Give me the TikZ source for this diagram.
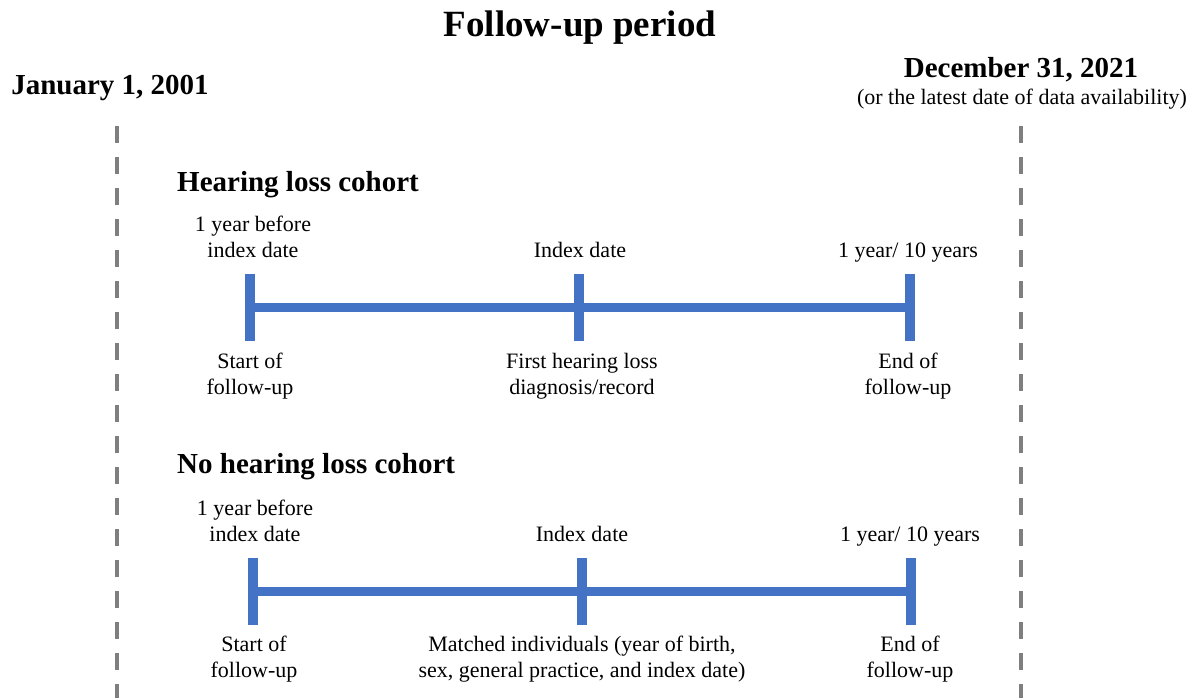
\documentclass[tikz,border=0pt]{standalone}
\usepackage{fontspec}
\setmainfont{Liberation Serif}
\definecolor{tlblue}{HTML}{4472C4}
\definecolor{dashgray}{HTML}{7F7F7F}
\tikzset{
  lbl/.style={inner sep=0pt, align=center, font=\fontsize{22}{26}\selectfont},
  head/.style={inner sep=0pt, font=\fontsize{29}{34}\selectfont\bfseries},
  tickbar/.style={fill=tlblue, inner sep=0pt, minimum width=10pt, minimum height=67pt},
  timeline/.style={draw=tlblue, line width=9pt},
  boundary/.style={draw=dashgray, line width=4pt, dash pattern=on 17pt off 14pt},
}
\begin{document}
\begin{tikzpicture}[x=1pt,y=-1pt]
\useasboundingbox (0,0) rectangle (1195,698);
% titles
\node[inner sep=0pt, font=\fontsize{37}{44}\selectfont\bfseries] (title) at (580,28) {Follow-up period};
\node[head] (start) at (110,88) {January 1, 2001};
\node[head] (end) at (1021,70) {December 31, 2021};
\node[lbl] (endnote) at (1022,99) {(or the latest date of data availability)};
% boundaries
\coordinate (la) at (117,126);
\coordinate (lb) at (117,710);
\coordinate (ra) at (1021,126);
\coordinate (rb) at (1021,710);
\draw[boundary] (la) -- (lb);
\draw[boundary] (ra) -- (rb);
% hearing loss cohort
\node[head, anchor=west] (hl) at (177,185) {Hearing loss cohort};
\node[tickbar] (a1) at (250,307) {};
\node[tickbar] (a2) at (579,307) {};
\node[tickbar] (a3) at (910,307) {};
\draw[timeline] (a1.center) -- (a2.center) -- (a3.center);
\node[lbl] (a1t) at (253,237) {1 year before\\index date};
\node[lbl, anchor=base] (a2t) at (580,257) {Index date};
\node[lbl, anchor=base] (a3t) at (908,257) {1 year/ 10 years};
\node[lbl] (a1b) at (250,376) {Start of\\follow-up};
\node[lbl] (a2b) at (582,376) {First hearing loss\\diagnosis/record};
\node[lbl] (a3b) at (908,376) {End of\\follow-up};
% no hearing loss cohort
\node[head, anchor=west] (nhl) at (177,467) {No hearing loss cohort};
\node[tickbar] (b1) at (253,591) {};
\node[tickbar] (b2) at (582,591) {};
\node[tickbar] (b3) at (911,591) {};
\draw[timeline] (b1.center) -- (b2.center) -- (b3.center);
\node[lbl] (b1t) at (255,521) {1 year before\\index date};
\node[lbl, anchor=base] (b2t) at (582,541) {Index date};
\node[lbl, anchor=base] (b3t) at (910,541) {1 year/ 10 years};
\node[lbl] (b1b) at (254,659) {Start of\\follow-up};
\node[lbl] (b2b) at (582,659) {Matched individuals (year of birth,\\sex, general practice, and index date)};
\node[lbl] (b3b) at (910,659) {End of\\follow-up};
\end{tikzpicture}
\end{document}
